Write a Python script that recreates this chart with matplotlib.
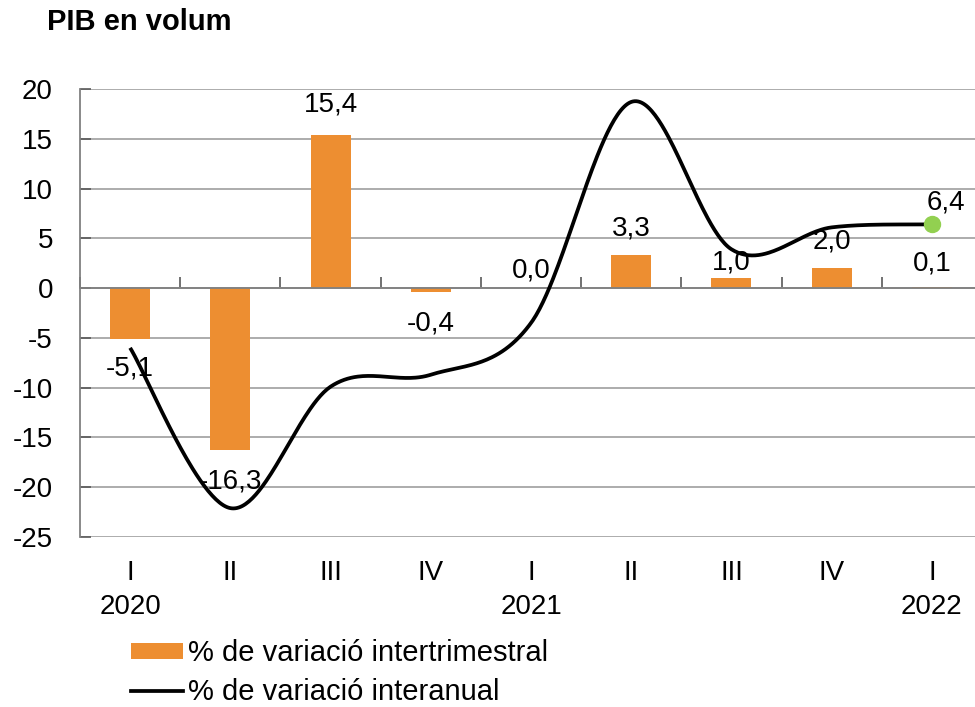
import numpy as np
import matplotlib
matplotlib.use("Agg")
import matplotlib.pyplot as plt
from matplotlib.transforms import blended_transform_factory
from matplotlib.lines import Line2D
from matplotlib.patches import Patch

plt.rcParams['font.family'] = ['Liberation Sans', 'DejaVu Sans']

# ---------------- data ----------------
quarters = ["I", "II", "III", "IV", "I", "II", "III", "IV", "I"]
years = ["2020", "", "", "", "2021", "", "", "", "2022"]
quarterly = [-5.1, -16.3, 15.4, -0.4, 0.0, 3.3, 1.0, 2.0, 0.1]      # % intertrimestral
annual = [-6.0, -22.1, -9.9, -8.7, -3.5, 18.7, 3.9, 6.1, 6.4]        # % interanual
bar_label_text = ["-5,1", "-16,3", "15,4", "-0,4", "0,0", "3,3", "1,0", "2,0", "0,1"]
last_label_text = "6,4"
bar_label_gap_px = [30, 31, 30, 31, 18, 27, 16, 27, 24]

title = "PIB en volum"
legend_bar = "% de variació intertrimestral"
legend_line = "% de variació interanual"

BAR_COLOR = "#ED8E31"
DOT_COLOR = "#92D050"
GRID_COLOR = "#A6A6A6"
FS = 20


def catmull_rom(x, y, n=60):
    """Excel-like smoothed line (Bezier with 1/6 neighbour tangents)."""
    x = np.asarray(x, float)
    y = np.asarray(y, float)
    px = np.concatenate([[x[0]], x, [x[-1]]])
    py = np.concatenate([[y[0]], y, [y[-1]]])
    xs, ys = [], []
    t = np.linspace(0, 1, n)
    for i in range(1, len(px) - 2):
        p0 = np.array([px[i], py[i]])
        p3 = np.array([px[i + 1], py[i + 1]])
        c1 = p0 + (np.array([px[i + 1], py[i + 1]]) - np.array([px[i - 1], py[i - 1]])) / 6
        c2 = p3 - (np.array([px[i + 2], py[i + 2]]) - np.array([px[i], py[i]])) / 6
        b = ((1 - t) ** 3)[:, None] * p0 + (3 * (1 - t) ** 2 * t)[:, None] * c1 \
            + (3 * (1 - t) * t ** 2)[:, None] * c2 + (t ** 3)[:, None] * p3
        xs.append(b[:, 0])
        ys.append(b[:, 1])
    return np.concatenate(xs), np.concatenate(ys)


W, H = 975, 707
fig = plt.figure(figsize=(W / 100, H / 100), dpi=100)
ax = fig.add_axes([80 / W, 1 - 537 / H, 902 / W, 448 / H])

xpos = np.arange(len(quarters))

# grid
ax.set_ylim(-25, 20)
ax.set_xlim(-0.5, len(quarters) - 0.5)
ax.set_yticks(np.arange(-25, 21, 5))
ax.yaxis.grid(True, color=GRID_COLOR, linewidth=1.3)
ax.set_axisbelow(True)

# bars
ax.bar(xpos, quarterly, width=0.4, color=BAR_COLOR, zorder=2)

# smoothed line
sx, sy = catmull_rom(xpos, annual)
ax.plot(sx, sy, color="black", linewidth=2.7, zorder=3, solid_capstyle="butt")
ax.plot(xpos[-1], annual[-1], 'o', color=DOT_COLOR, markersize=11.5, zorder=4)

# bar labels
for xi, v, txt, gap in zip(xpos, quarterly, bar_label_text, bar_label_gap_px):
    sign = -1 if v < 0 else 1
    ax.annotate(txt, (xi, v), xytext=(0, sign * gap * 0.72), textcoords="offset points",
                ha="center", va="center", fontsize=FS, zorder=5)
ax.annotate(last_label_text, (xpos[-1], annual[-1]), xytext=(14 * 0.72, 22 * 0.72),
            textcoords="offset points", ha="center", va="center", fontsize=FS, zorder=5)

# spines / ticks
for s in ["top", "right"]:
    ax.spines[s].set_visible(False)
ax.spines["left"].set_color("#808080")
ax.spines["left"].set_linewidth(1.3)
ax.spines["bottom"].set_position(("data", 0))
ax.spines["bottom"].set_color("#808080")
ax.spines["bottom"].set_linewidth(1.3)
ax.set_xticks(np.arange(-0.5, len(quarters), 1.0))
ax.set_xticklabels([])
ax.tick_params(axis="x", direction="in", length=8, width=1.2, color="#595959")
ax.tick_params(axis="y", direction="in", length=8, width=1.2, color="#595959",
               labelsize=FS, pad=19.5)
ax.set_yticklabels([str(v) for v in range(-25, 21, 5)])

# category labels
trans = blended_transform_factory(ax.transData, fig.transFigure)
for xi, q, yr in zip(xpos, quarters, years):
    ax.text(xi, 1 - 573 / H, q, transform=trans, ha="center", va="center", fontsize=FS)
    if yr:
        ax.text(xi, 1 - 607 / H, yr, transform=trans, ha="center", va="center", fontsize=FS)

# title
fig.text(47 / W, 1 - 22 / H, title, fontsize=21, fontweight="bold", ha="left", va="center")

# legend
handles = [Patch(facecolor=BAR_COLOR, edgecolor="none"),
           Line2D([], [], color="black", linewidth=2.7)]
leg = fig.legend(handles, [legend_bar, legend_line], loc="upper left",
                 bbox_to_anchor=(131 / W, 1 - 639 / H), frameon=False, fontsize=21,
                 handlelength=1.78, handleheight=0.48, handletextpad=0.17,
                 labelspacing=0.38, borderaxespad=0, borderpad=0)

fig.savefig("out.png", dpi=100)
